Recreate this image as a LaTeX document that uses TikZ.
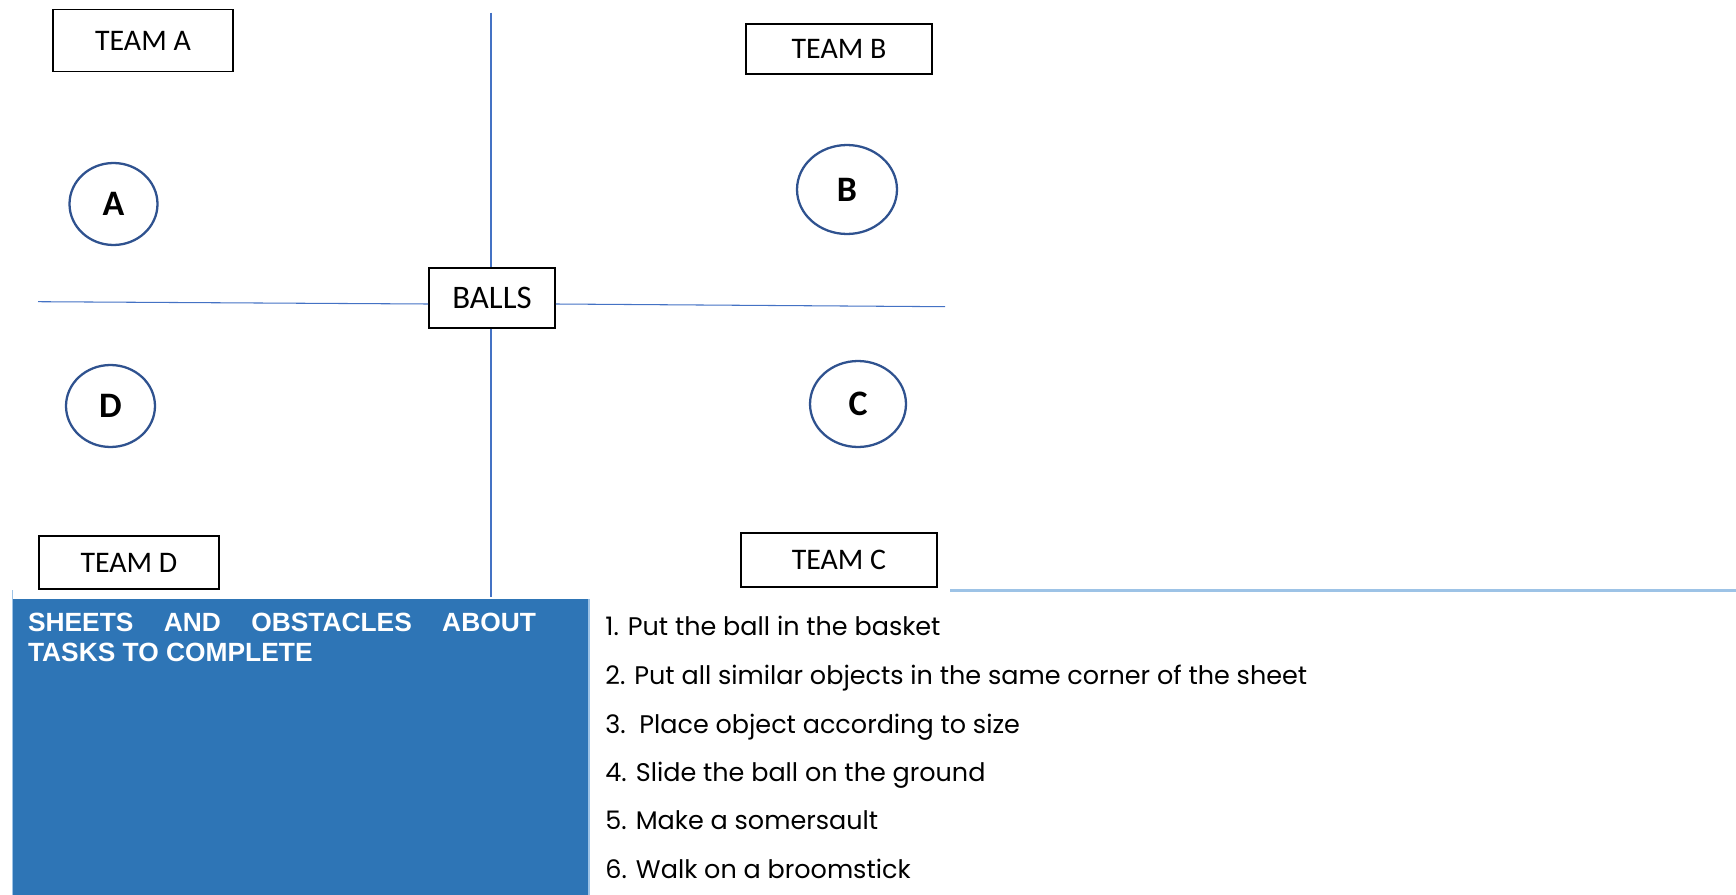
\documentclass[tikz,border=0pt]{standalone}
\usepackage{fontspec}
\usepackage{tikz}
\usetikzlibrary{shapes.geometric}
\usetikzlibrary{calc}
\newfontfamily\labelfont{Carlito}
\newfontfamily\headfont{Liberation Sans}
\newfontfamily\taskfont{Poppins}
\definecolor{crossblue}{HTML}{4472C4}
\definecolor{ringblue}{HTML}{2F528F}
\definecolor{panelblue}{HTML}{2E75B6}
\definecolor{paleblue}{HTML}{9DC3E6}
\tikzset{teambox/.style = {draw, line width=1pt, inner sep=0,
                           font=\labelfont\fontsize{17}{20}\selectfont}}
\tikzset{ring/.style = {ellipse, draw=ringblue, line width=1.3pt, inner sep=0,
                        font=\labelfont\bfseries\fontsize{20.4}{24}\selectfont}}
\tikzset{cross/.style = {crossblue, line width=0.6pt}}
\tikzset{task/.style = {anchor=base west, inner sep=0,
                        font=\taskfont\fontsize{14.5}{17}\selectfont}}

\begin{document}
\begin{tikzpicture}[x=0.02cm, y=-0.02cm]
    \useasboundingbox (0, 0) rectangle (1736, 895);

    \node [teambox, minimum width=3.6cm, minimum height=1.24cm] (teamA) at (143, 40.5) {TEAM A};
    \node [teambox, minimum width=3.72cm, minimum height=1cm] (teamB) at (839, 49) {TEAM B};
    \node [teambox, minimum width=3.92cm, minimum height=1.08cm] (teamC) at (839, 560) {TEAM C};
    \node [teambox, minimum width=3.6cm, minimum height=1.06cm] (teamD) at (129, 562.5) {TEAM D};

    \node [teambox, minimum width=2.52cm, minimum height=1.2cm,
           font=\labelfont\fontsize{18.7}{22}\selectfont] (balls) at (492, 298) {BALLS};

    \node [ring, minimum width=1.76cm, minimum height=1.64cm] (cornerA) at (113.5, 204) {A};
    \node [ring, minimum width=2cm, minimum height=1.78cm] (cornerB) at (847, 189.5) {B};
    \node [ring, minimum width=1.92cm, minimum height=1.72cm] (cornerC) at (858, 404) {C};
    \node [ring, minimum width=1.78cm, minimum height=1.64cm] (cornerD) at (110.5, 406) {D};

    % the cross through the balls
    \coordinate (crossN) at (491, 12.7);
    \coordinate (crossS) at (491, 597);
    \coordinate (crossW) at (38, 301.7);
    \coordinate (crossE) at (945, 306.7);
    \draw [cross] (crossN) -- (crossN |- balls.north);
    \draw [cross] (crossN |- balls.south) -- (crossS);
    \draw [cross] (crossW) -- ($(balls.west) + (0, 6)$);
    \draw [cross] ($(balls.east) + (0, 6)$) -- (crossE);

    \coordinate (ruleW) at (950, 590.7);
    \coordinate (ruleE) at (1736, 590.7);
    \draw [paleblue, line width=1.5pt] (ruleW) -- (ruleE);

    % sheet with the tasks
    \fill [panelblue] (13, 599) rectangle (589, 895);
    \draw [paleblue, line width=0.4pt] (12.6, 590) -- (12.6, 895);
    \draw [paleblue, line width=1pt] (589, 599) -- (589, 895);
    \node [anchor=north west, text width=10.16cm, align=justify, inner sep=0, text=white,
           font=\headfont\bfseries\fontsize{15}{17}\selectfont] (header) at (27.7, 612.5)
          {SHEETS AND OBSTACLES ABOUT\linebreak TASKS TO COMPLETE};

    \node [task] (task1) at (605, 635) {1. Put the ball in the basket};
    \node [task] (task2) at (605, 684) {2. Put all similar objects in the same corner of the sheet};
    \node [task] (task3) at (605, 733) {3.\ \ Place object according to size};
    \node [task] (task4) at (605, 781) {4. Slide the ball on the ground};
    \node [task] (task5) at (605, 829) {5. Make a somersault};
    \node [task] (task6) at (605, 878) {6. Walk on a broomstick};
  \end{tikzpicture}
\end{document}
